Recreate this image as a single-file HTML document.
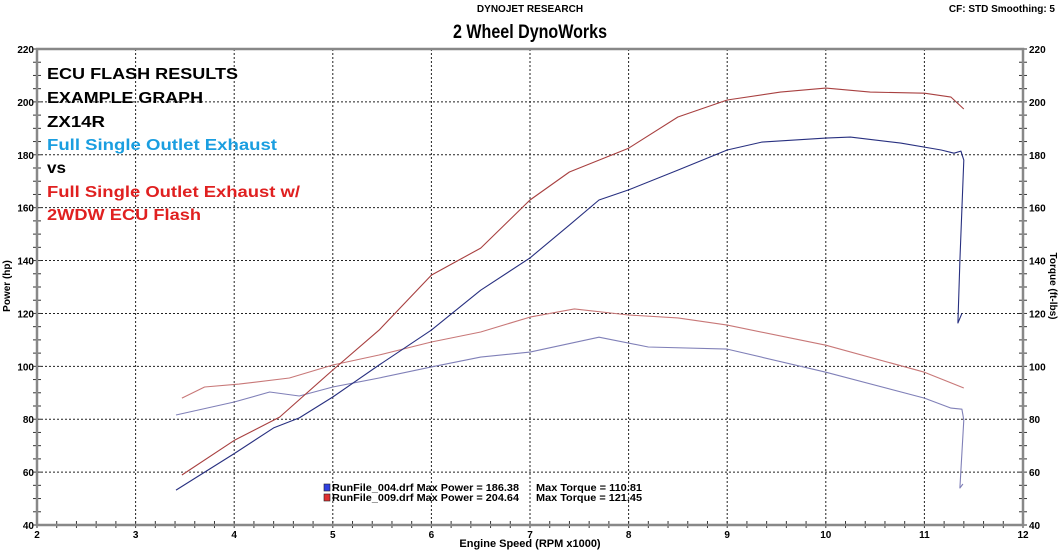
<!DOCTYPE html>
<html><head><meta charset="utf-8"><style>
body{margin:0;background:#fff;width:1060px;height:550px;overflow:hidden;font-family:"Liberation Sans",sans-serif}
svg{display:block}
</style></head><body>
<svg id="c" width="1060" height="550">
<text x="530" y="12" text-anchor="middle" font-size="10" font-weight="bold">DYNOJET RESEARCH</text>
<text x="453" y="38" font-size="19" font-weight="bold" textLength="154" lengthAdjust="spacingAndGlyphs">2 Wheel DynoWorks</text>
<text x="1055" y="12" text-anchor="end" font-size="10" font-weight="bold">CF: STD  Smoothing: 5</text>
<g id="grid"></g>
<g id="axes"></g>
<g id="series"></g>
<g font-weight="bold" font-size="16" lengthAdjust="spacingAndGlyphs">
<text x="47" y="79" textLength="191" lengthAdjust="spacingAndGlyphs">ECU FLASH RESULTS</text>
<text x="47" y="103" textLength="156" lengthAdjust="spacingAndGlyphs">EXAMPLE GRAPH</text>
<text x="47" y="127" textLength="58" lengthAdjust="spacingAndGlyphs">ZX14R</text>
<text x="47" y="150" fill="#1a9ee0" textLength="230" lengthAdjust="spacingAndGlyphs">Full Single Outlet Exhaust</text>
<text x="47" y="173" textLength="19" lengthAdjust="spacingAndGlyphs">vs</text>
<text x="47" y="197" fill="#e02020" textLength="253" lengthAdjust="spacingAndGlyphs">Full Single Outlet Exhaust w/</text>
<text x="47" y="220" fill="#e02020" textLength="154" lengthAdjust="spacingAndGlyphs">2WDW ECU Flash</text>
</g>
<g font-size="10" font-weight="bold">
<rect x="324" y="484" width="6" height="7" fill="#3040e0" stroke="#222" stroke-width="0.6"/>
<text x="332" y="491" textLength="187" lengthAdjust="spacingAndGlyphs">RunFile_004.drf Max Power = 186.38</text>
<text x="536" y="491" textLength="106" lengthAdjust="spacingAndGlyphs">Max Torque = 110.81</text>
<rect x="324" y="494" width="6" height="7" fill="#e03030" stroke="#222" stroke-width="0.6"/>
<text x="332" y="501" textLength="187" lengthAdjust="spacingAndGlyphs">RunFile_009.drf Max Power = 204.64</text>
<text x="536" y="501" textLength="106" lengthAdjust="spacingAndGlyphs">Max Torque = 121.45</text>
</g>
<text x="530" y="547" text-anchor="middle" font-size="11" font-weight="bold">Engine Speed (RPM x1000)</text>
<text transform="translate(10,286) rotate(-90)" text-anchor="middle" font-size="10" font-weight="bold">Power (hp)</text>
<text transform="translate(1050,286) rotate(90)" text-anchor="middle" font-size="10" font-weight="bold">Torque (ft-lbs)</text>
</svg>
<script>
const xTicks=[2,3,4,5,6,7,8,9,10,11,12];
const yTicks=[40,60,80,100,120,140,160,180,200,220];
const bluePowerRpm=[3.41,4.0,4.4,4.66,5.0,5.47,6.0,6.5,7.0,7.4,7.7,8.0,8.5,9.0,9.35,10.0,10.25,10.76,11.17,11.3,11.37,11.4,11.36,11.34,11.38];
const bluePower=[53.2,67,76.7,80.5,88.4,100.5,113.7,128.8,141,153.4,162.9,166.7,174.2,181.8,184.8,186.3,186.7,184.4,181.8,180.6,181.4,178,140,116.4,120];
const redPowerRpm=[3.47,4.0,4.46,5.0,5.47,6.0,6.5,7.0,7.4,8.0,8.5,9.0,9.54,10.0,10.45,11.0,11.27,11.4];
const redPower=[58.9,72,80.8,98.6,113.7,134.5,144.7,162.9,173.5,182.5,194.3,200.7,203.7,205.2,203.7,203.3,201.8,197.3];
const redTorqueRpm=[3.47,3.7,4.05,4.56,5.0,5.47,6.0,6.5,7.0,7.45,8.0,8.5,9.0,10.0,11.0,11.4];
const redTorque=[88,92.2,93.3,95.6,100.5,104.3,109.2,113,118.6,121.7,119.4,118.3,115.6,108,97.8,91.8];
const blueTorqueRpm=[3.41,4.0,4.36,4.66,5.0,5.47,6.0,6.5,7.0,7.7,8.2,9.0,10.0,11.0,11.27,11.38,11.4,11.36,11.39];
const blueTorque=[81.6,86.5,90.3,88.8,92.2,95.6,99.8,103.5,105.4,111,107.3,106.5,97.8,88,84.2,83.8,79.7,54,55.5];

const NS='http://www.w3.org/2000/svg';
const L=37,R=1023,T=49,B=525;
const X=r=>L+(r-2)/10*(R-L);
const Y=v=>B-(v-40)/180*(B-T);
function mk(p,tag,a){const e=document.createElementNS(NS,tag);for(const k in a)e.setAttribute(k,a[k]);p.appendChild(e);return e;}
const g=document.getElementById('grid'),ax=document.getElementById('axes'),s=document.getElementById('series');
xTicks.forEach(t=>{
  if(t>2&&t<12){const l=mk(g,'line',{x1:X(t),x2:X(t),y1:T,y2:B,stroke:'#222','stroke-width':1,'stroke-dasharray':'2,2'});
  
  }
  const tx=mk(ax,'text',{x:X(t),y:B+13,'text-anchor':'middle','font-size':10,'font-weight':'bold'});tx.textContent=t;
  
  
});
yTicks.forEach(t=>{
  if(t>40&&t<220){const l=mk(g,'line',{x1:L,x2:R,y1:Y(t),y2:Y(t),stroke:'#222','stroke-width':1,'stroke-dasharray':'2,2'});
  
  }
  const a=mk(ax,'text',{x:L-3,y:Y(t)+4,'text-anchor':'end','font-size':10,'font-weight':'bold'});a.textContent=t;
  
  
  const b=mk(ax,'text',{x:R+6,y:Y(t)+4,'font-size':10,'font-weight':'bold'});b.textContent=t;
  
  
});
for(let v=40;v<=220;v+=5){mk(ax,'line',{x1:L-4,x2:L+4,y1:Y(v),y2:Y(v),stroke:'#333','stroke-width':1});mk(ax,'line',{x1:R-4,x2:R+4,y1:Y(v),y2:Y(v),stroke:'#333','stroke-width':1});}
for(let r=2;r<=12.001;r+=0.2){mk(ax,'line',{x1:X(r),x2:X(r),y1:B-4,y2:B+3,stroke:'#333','stroke-width':1});}
const fr=mk(ax,'path',{d:`M${L},${B} L${L},${T} L${R},${T} L${R},${B} Z`,fill:'none',stroke:'#888','stroke-width':2.5});


function line(xs,ys,col,name){
  const d=xs.map((r,i)=>(i?'L':'M')+X(r).toFixed(1)+','+Y(ys[i]).toFixed(1)).join(' ');
  const p=mk(s,'path',{d,fill:'none',stroke:col,'stroke-width':1.1,'stroke-linejoin':'round'});
  
  
}
line(redTorqueRpm,redTorque,'#c87878','red-torque-line');
line(blueTorqueRpm,blueTorque,'#8080b8','blue-torque-line');
line(redPowerRpm,redPower,'#a84040','red-power-line');
line(bluePowerRpm,bluePower,'#283080','blue-power-line');
</script>
</body></html>
